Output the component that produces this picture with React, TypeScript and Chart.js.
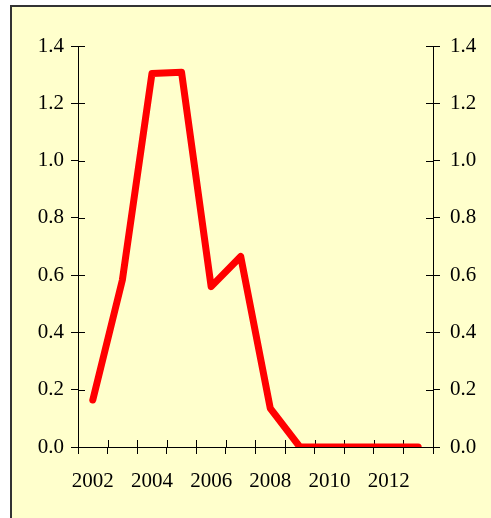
import React, { useEffect, useRef } from "react";
import { Chart, registerables } from "chart.js";

Chart.register(...registerables);

const years = ["2002", "2003", "2004", "2005", "2006", "2007", "2008", "2009", "2010", "2011", "2012", "2013"];
const values = [0.164, 0.583, 1.304, 1.308, 0.56, 0.665, 0.135, 0.0, 0.0, 0.0, 0.0, 0.0];
const yTicks = [0, 0.2, 0.4, 0.6, 0.8, 1.0, 1.2, 1.4];

const FONT = { family: "'Liberation Serif', 'Times New Roman', serif", size: 21 };

const innerTicks = {
  id: "innerTicks",
  beforeDatasetsDraw(chart: any) {
    const ctx = chart.ctx;
    const len = 7;
    ctx.save();
    ctx.strokeStyle = "#000";
    ctx.lineWidth = 1;
    ctx.beginPath();
    const xs = chart.scales.x;
    const n = xs.ticks.length;
    const step = xs.getPixelForTick(1) - xs.getPixelForTick(0);
    for (let i = 0; i <= n; i++) {
      const px = Math.round(xs.getPixelForTick(0) - step / 2 + i * step) + 0.5;
      ctx.moveTo(px, xs.top);
      ctx.lineTo(px, xs.top - len);
    }
    const yl = chart.scales.y;
    const yr = chart.scales.y2;
    yTicks.forEach((v) => {
      const py = Math.round(yl.getPixelForValue(v)) + 0.5;
      ctx.moveTo(yl.right, py);
      ctx.lineTo(yl.right + len, py);
      ctx.moveTo(yr.left, py);
      ctx.lineTo(yr.left - len, py);
    });
    ctx.stroke();
    ctx.restore();
  },
};

export default function App() {
  const ref = useRef<HTMLCanvasElement>(null);
  useEffect(() => {
    const yScale = (position: string) => ({
      position,
      min: 0,
      max: 1.4,
      display: true,
      afterBuildTicks: (s: any) => {
        s.ticks = yTicks.map((v) => ({ value: v }));
      },
      afterFit: (s: any) => {
        s.width = position === "left" ? 78 : 58;
      },
      ticks: {
        color: "#000",
        font: FONT,
        padding: position === "left" ? 7 : 10,
        callback: (v: any) => Number(v).toFixed(1),
      },
      grid: { display: true, drawOnChartArea: false, drawTicks: true, tickLength: 7, color: "#000" },
      border: { display: true, color: "#000", width: 1 },
    });
    const chart = new Chart(ref.current!, {
      type: "line",
      data: {
        labels: years,
        datasets: [
          {
            data: values,
            borderColor: "#ff0000",
            backgroundColor: "#ff0000",
            borderWidth: 7,
            pointRadius: 0,
            tension: 0,
            borderJoinStyle: "round",
            borderCapStyle: "round",
            yAxisID: "y",
          },
        ],
      },
      options: {
        animation: false,
        responsive: false,
        maintainAspectRatio: false,
        layout: { padding: { top: 46, left: 0, right: 0, bottom: 0 } },
        plugins: { legend: { display: false }, tooltip: { enabled: false } },
        scales: {
          x: {
            type: "category",
            offset: true,
            afterFit: (s: any) => {
              s.height = 71;
            },
            grid: { display: true, offset: true, drawOnChartArea: false, drawTicks: true, tickLength: 7, color: "#000" },
            border: { display: true, color: "#000", width: 1 },
            ticks: {
              autoSkip: false,
              maxRotation: 0,
              color: "#000",
              font: FONT,
              padding: 15,
              callback: (_v: any, i: number) => (i % 2 === 0 ? years[i] : ""),
            },
          },
          y: yScale("left") as any,
          y2: yScale("right") as any,
        },
      },
      plugins: [innerTicks],
    });
    return () => chart.destroy();
  }, []);
  return (
    <div style={{ position: "fixed", left: 0, top: 0, width: 491, height: 518, background: "#fff", overflow: "hidden" }}>
      <div
        style={{
          position: "absolute",
          left: 10,
          top: 5,
          width: 520,
          height: 540,
          background: "#ffffcc",
          border: "2px solid #333",
        }}
      />
      <canvas ref={ref} width={491} height={518} style={{ position: "absolute", left: 0, top: 0, width: 491, height: 518 }} />
    </div>
  );
}
